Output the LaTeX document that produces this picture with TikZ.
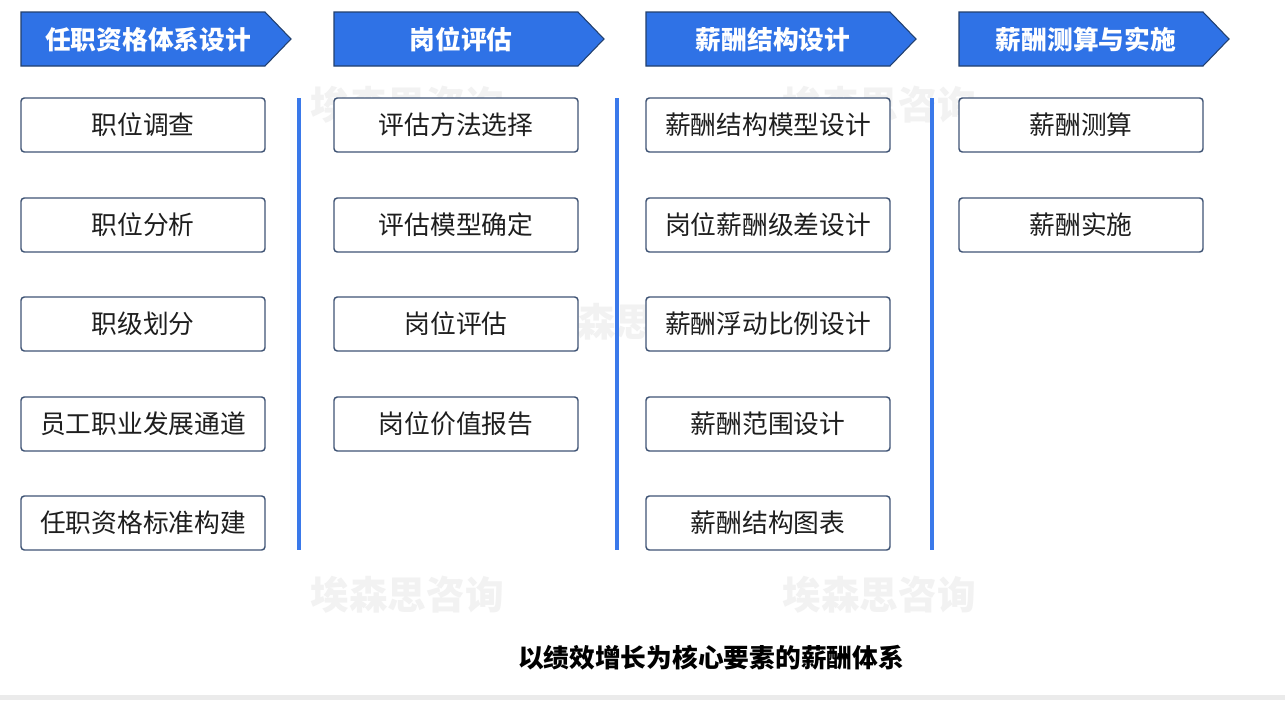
\documentclass[tikz,border=0pt]{standalone}
\usepackage{fontspec}
\newfontfamily\cjk{Noto Sans CJK SC}
\definecolor{hdrblue}{HTML}{2F72E6}
\definecolor{hdrline}{HTML}{22406E}
\definecolor{boxline}{HTML}{3F5475}
\definecolor{vblue}{HTML}{3A79EA}
\definecolor{txt}{HTML}{1E1E1E}
\definecolor{wm}{HTML}{F2F2F2}
\begin{document}
\begin{tikzpicture}[x=0.75pt,y=-0.75pt,
  hdrshape/.style={fill=hdrblue,draw=hdrline,line width=0.8pt,line join=miter},
  hdrtext/.style={font=\cjk\bfseries\fontsize{19.3}{21}\selectfont,text=white,inner sep=0pt},
  item/.style={draw=boxline,line width=1.1pt,rounded corners=2.5pt,fill=white,
    minimum width=183pt,minimum height=40.5pt,inner sep=0pt,
    font=\cjk\fontsize{19.3}{21}\selectfont,text=txt},
  sep/.style={draw=vblue,line width=2.3pt},
  wmark/.style={font=\cjk\bfseries\fontsize{29}{30}\selectfont,text=wm,inner sep=0pt},
  title/.style={font=\cjk\bfseries\fontsize{19.3}{21}\selectfont,text=black,inner sep=0pt}]
\useasboundingbox (0,0) rectangle (1285,700);
\fill[white] (0,0) rectangle (1285,700);
\fill[black!8] (0,695) rectangle (1285,700);

% watermarks (background)
\foreach \x/\y/\n in {407/105/w1,879/105/w2,635/322/w3,407/595/w4,879/595/w5}{
  \node[wmark] (\n) at (\x,\y) {埃森思咨询};
}

% headers
\foreach \x/\t/\n in {21/任职资格体系设计/h1,334/岗位评估/h2,646/薪酬结构设计/h3,959/薪酬测算与实施/h4}{
  \draw[hdrshape] (\x,12) -- (\x+244,12) -- (\x+270,39) -- (\x+244,66) -- (\x,66) -- cycle;
  \node[hdrtext] (\n) at (\x+127,39.5) {\t};
}

% separators
\foreach \x in {299,617,932}{
  \draw[sep] (\x,98) -- (\x,550);
}

% column 1
\node[item] (a1) at (143,125) {职位调查};
\node[item] (a2) at (143,225) {职位分析};
\node[item] (a3) at (143,324) {职级划分};
\node[item] (a4) at (143,424) {员工职业发展通道};
\node[item] (a5) at (143,523) {任职资格标准构建};
% column 2
\node[item] (b1) at (456,125) {评估方法选择};
\node[item] (b2) at (456,225) {评估模型确定};
\node[item] (b3) at (456,324) {岗位评估};
\node[item] (b4) at (456,424) {岗位价值报告};
% column 3
\node[item] (c1) at (768,125) {薪酬结构模型设计};
\node[item] (c2) at (768,225) {岗位薪酬级差设计};
\node[item] (c3) at (768,324) {薪酬浮动比例设计};
\node[item] (c4) at (768,424) {薪酬范围设计};
\node[item] (c5) at (768,523) {薪酬结构图表};
% column 4
\node[item] (d1) at (1081,125) {薪酬测算};
\node[item] (d2) at (1081,225) {薪酬实施};

\node[title] (t) at (711,658) {以绩效增长为核心要素的薪酬体系};
\end{tikzpicture}
\end{document}
